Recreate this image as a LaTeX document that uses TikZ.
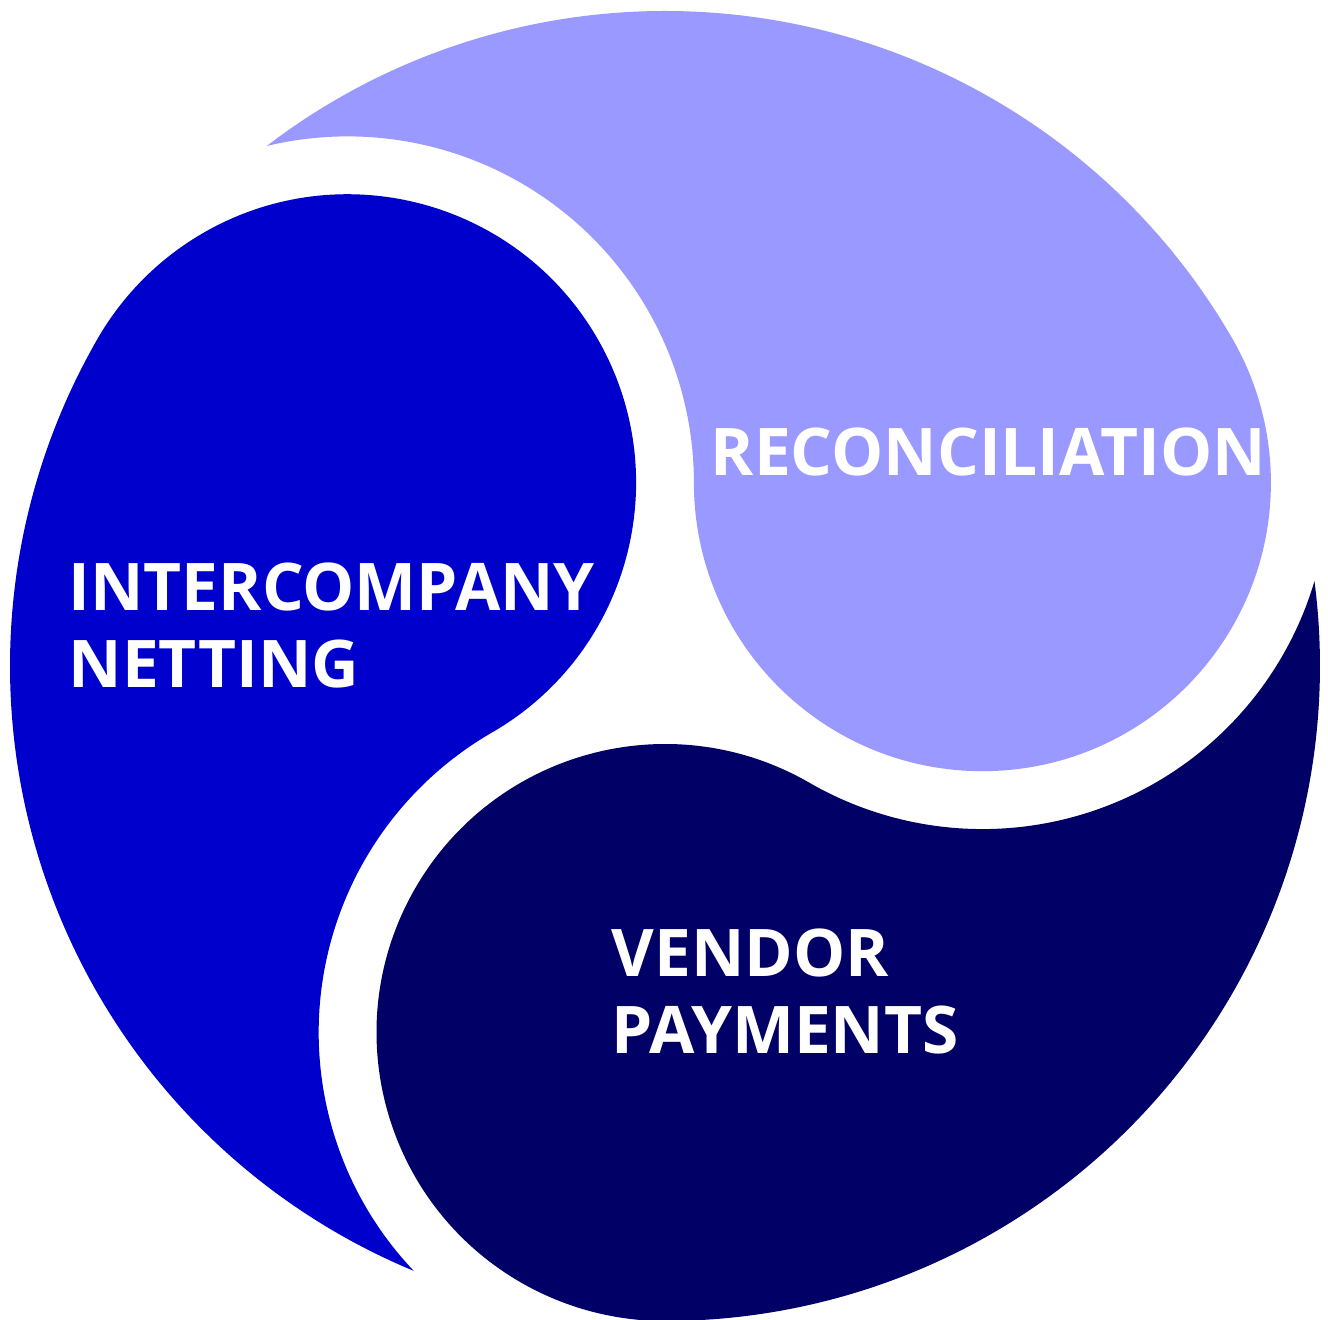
\documentclass[tikz,border=0pt]{standalone}
\usepackage{fontspec}
\setsansfont{Open Sans}
\definecolor{reconblue}{HTML}{9999FF}
\definecolor{nettingblue}{HTML}{0000CC}
\definecolor{vendorblue}{HTML}{000066}

\begin{document}
\begin{tikzpicture}[
  label text/.style={text=white, inner sep=0pt, align=left,
    font=\sffamily\bfseries\fontsize{18.7}{21.9}\selectfont}
]
  \useasboundingbox (-6.65,-6.53) rectangle (6.63,6.66);
  % each piece: outer rim, hollow round the next head, then its own head
  \fill[nettingblue] (150:6.55) arc[start angle=150, end angle=247.44, radius=6.55]
    arc[start angle=223.49, end angle=120, radius=3.463]
    arc[start angle=-60, end angle=150, radius=2.885] -- cycle;
  \fill[reconblue] (30:6.55) arc[start angle=30, end angle=127.44, radius=6.55]
    arc[start angle=103.49, end angle=0, radius=3.463]
    arc[start angle=-180, end angle=30, radius=2.885] -- cycle;
  \fill[vendorblue] (-90:6.55) arc[start angle=-90, end angle=7.44, radius=6.55]
    arc[start angle=-16.51, end angle=-120, radius=3.463]
    arc[start angle=-300, end angle=-90, radius=2.885] -- cycle;
  % labels, base anchor sits on the last line
  \node[label text, anchor=base west] (recon) at (0.45,1.90) {RECONCILIATION};
  \node[label text, anchor=base west] (netting) at (-5.97,-0.21) {INTERCOMPANY\\NETTING};
  \node[label text, anchor=base west] (vendor) at (-0.54,-3.87) {VENDOR\\PAYMENTS};
\end{tikzpicture}
\end{document}
